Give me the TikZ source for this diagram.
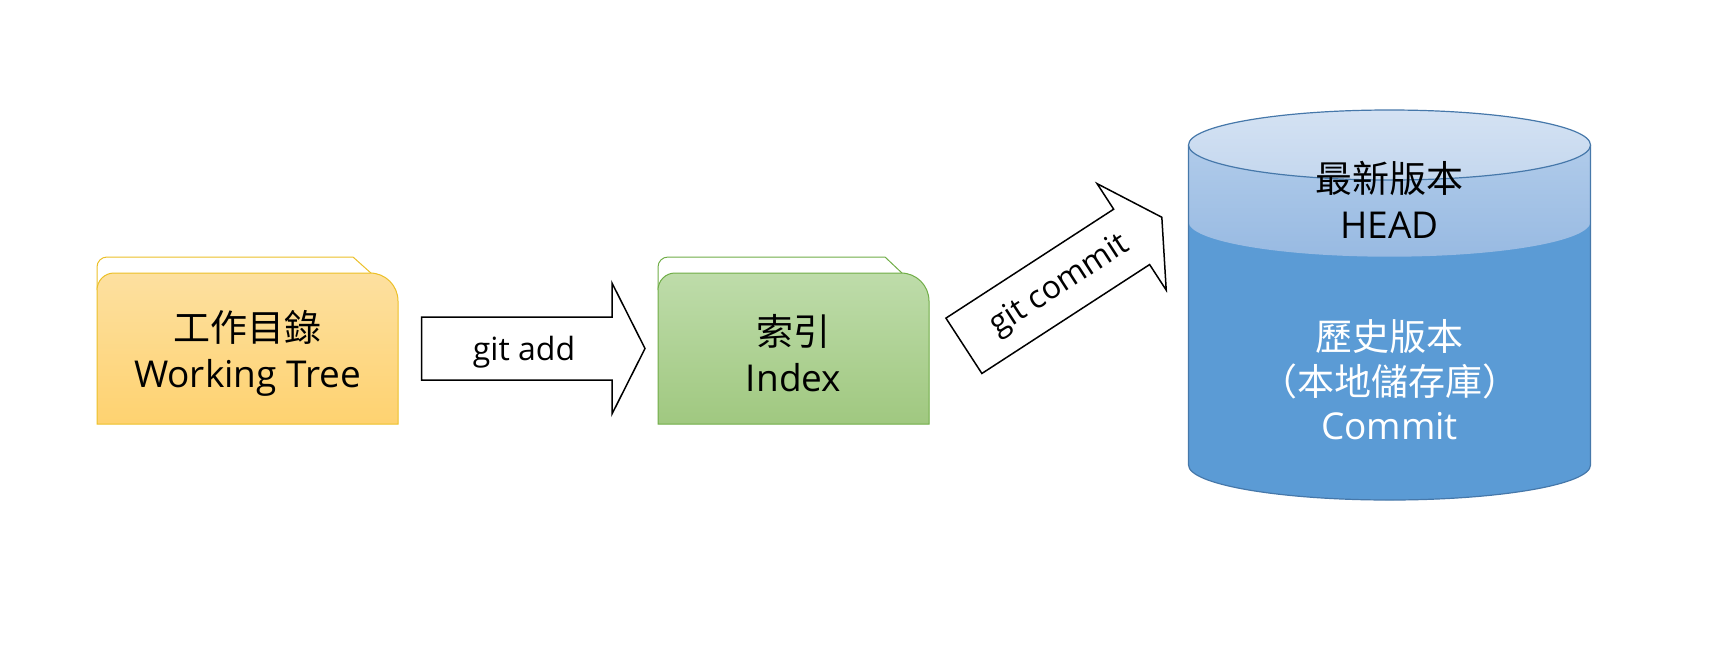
\documentclass[tikz,border=0pt]{standalone}
\usepackage{fontspec}
\setmainfont{Open Sans}
\newfontfamily\cjk{Noto Sans CJK TC}
\definecolor{yellowline}{RGB}{236,192,40}
\definecolor{yellowtop}{RGB}{253,224,160}
\definecolor{yellowbot}{RGB}{254,210,112}
\definecolor{greenline}{RGB}{112,173,71}
\definecolor{greentop}{RGB}{190,220,170}
\definecolor{greenbot}{RGB}{160,200,128}
\definecolor{cylbody}{RGB}{91,155,213}
\definecolor{bandtop}{RGB}{176,203,234}
\definecolor{bandbot}{RGB}{152,186,226}
\definecolor{toptop}{RGB}{212,226,243}
\definecolor{topbot}{RGB}{196,215,238}
\definecolor{cylline}{RGB}{70,120,170}

\begin{document}
\begin{tikzpicture}[x=1pt,y=-1pt,
  boxtext/.style={inner sep=0pt, align=center, font=\fontsize{37}{46}\selectfont},
  cmd/.style={inner sep=0pt, font=\fontsize{32}{38}\selectfont},
  arrowbox/.style={draw=black, line width=1.5pt, fill=white}]
\useasboundingbox (0,0) rectangle (1726,654);
% Working tree folder
\draw[yellowline, fill=white, line width=1pt] (97,290) -- (97,267) arc(180:270:10) -- (353,257) -- (372,274);
\draw[draw=yellowline, top color=yellowtop, bottom color=yellowbot, line width=1pt]
  (97,424) -- (97,290) arc(180:270:17) -- (370,273) arc(270:360:28) -- (398,424) -- cycle;
\node[boxtext] (wtree) at (247.5,353) {{\cjk 工作目錄}\\Working Tree};
% Index folder
\draw[greenline, fill=white, line width=1pt] (658,290) -- (658,267) arc(180:270:10) -- (885,257) -- (903,274);
\draw[draw=greenline, top color=greentop, bottom color=greenbot, line width=1pt]
  (658,424) -- (658,290) arc(180:270:17) -- (901,273) arc(270:360:28) -- (929,424) -- cycle;
\node[boxtext] (index) at (793.5,353) {{\cjk 索引}\\Index};
% git add arrow
\draw[arrowbox] (421.7,317) -- (612,317) -- (612,283) -- (645,348.5) -- (612,414) -- (612,380) -- (421.7,380) -- cycle;
\node[cmd] (gitadd) at (524,352) {git add};
% git commit arrow
\begin{scope}[shift={(963.9,345.8)}, rotate=33]
\draw[arrowbox] (0,-33) -- (200,-33) -- (200,-63.5) -- (236,0) -- (200,63.5) -- (200,33) -- (0,33) -- cycle;
\node[cmd, rotate=33] (gitcommit) at (113,2) {git commit};
\end{scope}
% Repository cylinder
\fill[cylbody] (1188.5,145) -- (1188.5,465) arc[start angle=180, end angle=0, x radius=201, y radius=35]
  -- (1590.5,145) arc[start angle=0, end angle=180, x radius=201, y radius=35] -- cycle;
\shade[top color=bandtop, bottom color=bandbot] (1188.5,145) -- (1188.5,221.7)
  arc[start angle=180, end angle=0, x radius=201, y radius=35]
  -- (1590.5,145) arc[start angle=0, end angle=180, x radius=201, y radius=35] -- cycle;
\draw[cylline, line width=1.2pt] (1188.5,145) -- (1188.5,465)
  arc[start angle=180, end angle=0, x radius=201, y radius=35] -- (1590.5,145);
\draw[draw=cylline, line width=1.2pt, top color=toptop, bottom color=topbot] (1389.5,145) ellipse[x radius=201, y radius=35];
\node[boxtext] (head) at (1389.5,200) {{\cjk 最新版本}\\HEAD};
\node[boxtext, text=white, font=\fontsize{37}{44.5}\selectfont] (history) at (1389.5,380)
  {{\cjk 歷史版本}\\{\cjk （本地儲存庫）}\\Commit};
\end{tikzpicture}
\end{document}
